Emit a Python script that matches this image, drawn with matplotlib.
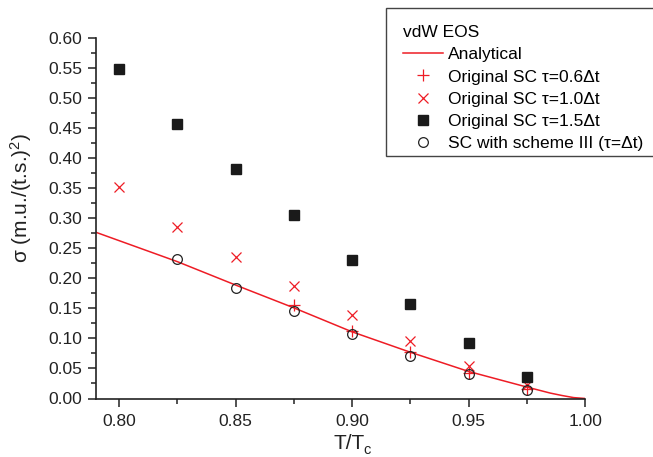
import matplotlib
matplotlib.use("Agg")
import matplotlib.pyplot as plt
from matplotlib.patches import Rectangle
from matplotlib.ticker import MultipleLocator, FormatStrFormatter

plt.rcParams['font.family'] = ['Liberation Sans', 'DejaVu Sans']
plt.rcParams['mathtext.fontset'] = 'custom'
plt.rcParams['mathtext.rm'] = 'Liberation Sans'
plt.rcParams['mathtext.it'] = 'Liberation Sans'

# Analytical curve
line_T = [0.79, 0.80, 0.825, 0.85, 0.875, 0.90, 0.925, 0.95, 0.975, 0.985, 0.99, 0.995, 1.00]
line_s = [0.277, 0.263, 0.228, 0.189, 0.151, 0.111, 0.077, 0.045, 0.019, 0.009, 0.005, 0.0015, 0.0]

# Original SC tau=0.6 dt (+)
p06_T = [0.875, 0.90, 0.925, 0.95, 0.975]
p06_s = [0.155, 0.113, 0.077, 0.042, 0.015]

# Original SC tau=1.0 dt (x)
p10_T = [0.80, 0.825, 0.85, 0.875, 0.90, 0.925, 0.95, 0.975]
p10_s = [0.352, 0.285, 0.236, 0.187, 0.139, 0.096, 0.054, 0.022]

# Original SC tau=1.5 dt (squares)
p15_T = [0.80, 0.825, 0.85, 0.875, 0.90, 0.925, 0.95, 0.975]
p15_s = [0.549, 0.458, 0.382, 0.306, 0.230, 0.157, 0.092, 0.035]

# SC with scheme III (circles)
s3_T = [0.825, 0.85, 0.875, 0.90, 0.925, 0.95, 0.975]
s3_s = [0.232, 0.184, 0.146, 0.107, 0.071, 0.040, 0.014]

W, H = 653, 457
red = '#ee1c25'
ink = '#222222'
fig = plt.figure(figsize=(W/100, H/100), dpi=100)
ax = fig.add_axes([95.7/W, 1 - 398.5/H, (585.3 - 95.7)/W, (398.5 - 38.3)/H])
ax.patch.set_visible(False)

ax.plot(line_T, line_s, color=red, lw=1.1, label='Analytical', zorder=2)
ax.plot(p06_T, p06_s, ls='none', marker='+', ms=8.5, mew=0.9, color=red,
        label='Original SC \u03c4=0.6\u0394t', zorder=3)
ax.plot(p10_T, p10_s, ls='none', marker='x', ms=7, mew=0.9, color=red,
        label='Original SC \u03c4=1.0\u0394t', zorder=3)
ax.plot(p15_T, p15_s, ls='none', marker='s', ms=6.5, color='#1a1a1a',
        label='Original SC \u03c4=1.5\u0394t', zorder=3)
ax.plot(s3_T, s3_s, ls='none', marker='o', ms=7, mfc='none', mec=ink, mew=0.9,
        label='SC with scheme III (\u03c4=\u0394t)', zorder=4)

ax.set_xlim(0.79, 1.00)
ax.set_ylim(0.0, 0.60)
ax.xaxis.set_major_locator(MultipleLocator(0.05))
ax.xaxis.set_minor_locator(MultipleLocator(0.025))
ax.yaxis.set_major_locator(MultipleLocator(0.05))
ax.yaxis.set_minor_locator(MultipleLocator(0.025))
ax.xaxis.set_major_formatter(FormatStrFormatter('%.2f'))
ax.yaxis.set_major_formatter(FormatStrFormatter('%.2f'))
ax.tick_params(which='major', direction='out', length=6, width=1.1, labelsize=12.5, colors=ink)
ax.tick_params(which='minor', direction='out', length=3.5, width=1.1, colors=ink)
ax.tick_params(axis='x', pad=5)
for s in ['top', 'right']:
    ax.spines[s].set_visible(False)
for s in ['left', 'bottom']:
    ax.spines[s].set_linewidth(1.2)
    ax.spines[s].set_color(ink)

# axis labels
ax.set_ylabel('\u03c3 (m.u./(t.s.)$^\\mathregular{2}$)', fontsize=15, color=ink)
ax.yaxis.set_label_coords((34 - 95.7)/489.6, (398.5 - 197.5)/360.2)
fig.text(333/W, 1 - 449/H, 'T/T', fontsize=15, color=ink, ha='left', va='baseline')
fig.text(363/W, 1 - 454/H, 'c', fontsize=10.5, color=ink, ha='left', va='baseline')

# legend
leg = ax.legend(loc='upper left', bbox_to_anchor=(403/W, 1 - 25/H),
                bbox_transform=fig.transFigure, title='vdW EOS',
                fontsize=12.5, title_fontsize=12.5, frameon=False,
                borderpad=0, handlelength=2.3, handletextpad=0.29,
                labelspacing=0.41, alignment='left', borderaxespad=0)
fig.patches.append(Rectangle((386/W, 1 - 156/H), (670 - 386)/W, 148/H,
                             transform=fig.transFigure, fill=True, fc='white',
                             ec='#444444', lw=1.0, zorder=-1))

fig.savefig('out.png', dpi=100)
